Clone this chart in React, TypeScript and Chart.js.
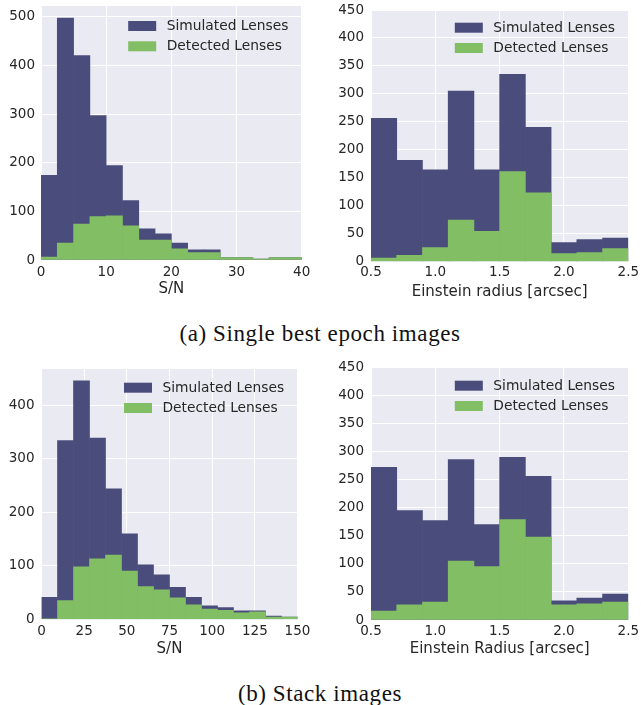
import React, { useEffect, useRef } from "react";
import { Chart, registerables } from "chart.js";

Chart.register(...registerables);
Chart.defaults.font.family = "DejaVu Sans";
Chart.defaults.font.size = 13.5;

// ---------- DATA ----------
const seriesLabels = ["Simulated Lenses", "Detected Lenses"];

// (a) single best epoch — S/N histogram (bin centres, width 2.5)
const snBinsA = [1.25, 3.75, 6.25, 8.75, 11.25, 13.75, 16.25, 18.75, 21.25, 23.75, 26.25, 28.75, 31.25, 33.75, 36.25, 38.75];
const snSimA = [174, 497, 420, 297, 194, 122, 64, 54, 35, 21, 21, 5, 5, 2, 5, 5];
const snDetA = [6, 35, 74, 89, 91, 70, 41, 41, 23, 15, 15, 5, 5, 2, 5, 5];

// (a) single best epoch — Einstein radius histogram (bin centres, width 0.2)
const erBins = [0.6, 0.8, 1.0, 1.2, 1.4, 1.6, 1.8, 2.0, 2.2, 2.4];
const erSimA = [256, 181, 164, 305, 164, 335, 240, 34, 39, 42];
const erDetA = [6, 11, 25, 74, 54, 161, 123, 14, 16, 23];

// (b) stack — S/N histogram (bin centres, width 9.375)
const snBinsB = [4.6875, 14.0625, 23.4375, 32.8125, 42.1875, 51.5625, 60.9375, 70.3125, 79.6875, 89.0625, 98.4375, 107.8125, 117.1875, 126.5625, 135.9375, 145.3125];
const snSimB = [41, 334, 446, 339, 244, 160, 102, 83, 60, 41, 25, 22, 16, 16, 6, 4];
const snDetB = [1, 35, 98, 113, 120, 90, 61, 55, 40, 27, 19, 17, 12, 14, 4, 4];

// (b) stack — Einstein radius histogram
const erSimB = [272, 195, 177, 286, 170, 290, 256, 34, 39, 46];
const erDetB = [16, 27, 32, 105, 95, 179, 148, 27, 29, 32];

const captions = ["(a) Single best epoch images", "(b) Stack images"];

// ---------- STYLE ----------
const BLUE = "#4a4c7b";
const GREEN = "#82be64";
const BG = "#eaeaf2";
const TEXT = "#262626";
const FONT = "DejaVu Sans";

const bgPlugin = {
  id: "bgArea",
  beforeDraw(chart: any) {
    const { ctx, chartArea } = chart;
    if (!chartArea) return;
    ctx.save();
    ctx.fillStyle = BG;
    ctx.fillRect(chartArea.left, chartArea.top, chartArea.right - chartArea.left, chartArea.bottom - chartArea.top);
    ctx.restore();
  },
};

const legendPlugin = {
  id: "innerLegend",
  afterDatasetsDraw(chart: any, _args: any, opts: any) {
    const { ctx, chartArea } = chart;
    const ds = chart.data.datasets;
    const dy = opts && typeof opts.dy === "number" ? opts.dy : 14;
    ctx.save();
    ctx.font = `13.8px "${FONT}"`;
    ctx.textBaseline = "middle";
    ctx.textAlign = "left";
    ds.forEach((d: any, i: number) => {
      const rx = chartArea.right - 173.5;
      const ry = chartArea.top + dy + i * 20.3;
      ctx.fillStyle = d.backgroundColor;
      ctx.fillRect(rx, ry, 28, 10);
      ctx.fillStyle = TEXT;
      ctx.fillText(d.label, chartArea.right - 135, ry + 5.5);
    });
    ctx.restore();
  },
};

type PanelProps = {
  left: number;
  top: number;
  width: number;
  height: number;
  padTop: number;
  padRight: number;
  yAxisW: number;
  xAxisH: number;
  titlePad: number;
  xTickPad: number;
  yTickPad: number;
  legendDy: number;
  bins: number[];
  sim: number[];
  det: number[];
  xMin: number;
  xMax: number;
  xStep: number;
  yMax: number;
  yStep: number;
  xTitle: string;
  decimals: number;
};

function zeroPad(s: any) {
  s.paddingTop = 0;
  s.paddingBottom = 0;
  s.paddingLeft = 0;
  s.paddingRight = 0;
}

function Panel(p: PanelProps) {
  const ref = useRef<HTMLCanvasElement | null>(null);
  useEffect(() => {
    if (!ref.current) return;
    const tickFont = { family: FONT, size: 13.5 };
    const titleFont = { family: FONT, size: 15 };
    const common = {
      grouped: false,
      barPercentage: 1,
      categoryPercentage: 1,
      borderWidth: 0,
    };
    const chart = new Chart(ref.current, {
      type: "bar",
      data: {
        datasets: [
          {
            ...common,
            label: seriesLabels[0],
            data: p.bins.map((x, i) => ({ x, y: p.sim[i] })),
            backgroundColor: BLUE,
            order: 2,
          },
          {
            ...common,
            label: seriesLabels[1],
            data: p.bins.map((x, i) => ({ x, y: p.det[i] })),
            backgroundColor: GREEN,
            order: 1,
          },
        ] as any,
      },
      options: {
        animation: false,
        responsive: false,
        maintainAspectRatio: false,
        devicePixelRatio: 1,
        layout: { padding: { top: p.padTop, right: p.padRight, left: 0, bottom: 0 } },
        plugins: {
          legend: { display: false },
          tooltip: { enabled: false },
          innerLegend: { dy: p.legendDy },
        },
        scales: {
          x: {
            type: "linear",
            min: p.xMin,
            max: p.xMax,
            offset: false,
            grid: { color: "#ffffff", lineWidth: 1, offset: false, drawTicks: false },
            border: { display: false },
            ticks: {
              stepSize: p.xStep,
              includeBounds: false,
              autoSkip: false,
              maxRotation: 0,
              padding: p.xTickPad,
              font: tickFont,
              color: TEXT,
              callback: (v: any) => Number(v).toFixed(p.decimals),
            },
            title: {
              display: true,
              text: p.xTitle,
              font: titleFont,
              color: TEXT,
              padding: { top: 0, bottom: p.titlePad },
            },
            afterFit: (s: any) => {
              s.height = p.xAxisH;
              zeroPad(s);
            },
          } as any,
          y: {
            type: "linear",
            min: 0,
            max: p.yMax,
            grid: { color: "#ffffff", lineWidth: 1, drawTicks: false },
            border: { display: false },
            ticks: {
              stepSize: p.yStep,
              includeBounds: false,
              autoSkip: false,
              padding: p.yTickPad,
              font: tickFont,
              color: TEXT,
            },
            afterFit: (s: any) => {
              s.width = p.yAxisW;
              zeroPad(s);
            },
          } as any,
        },
      } as any,
      plugins: [bgPlugin, legendPlugin],
    });
    return () => chart.destroy();
  }, []);
  return (
    <canvas
      ref={ref}
      width={p.width}
      height={p.height}
      style={{ position: "absolute", left: p.left, top: p.top, width: p.width, height: p.height }}
    />
  );
}

export default function App() {
  const captionStyle: React.CSSProperties = {
    position: "absolute",
    left: 0,
    width: 640,
    textAlign: "center",
    fontFamily: "'Liberation Serif', 'Times New Roman', serif",
    fontSize: 23,
    color: "#111",
    whiteSpace: "nowrap",
    lineHeight: "24px",
    letterSpacing: "0.6px",
  };
  return (
    <div style={{ position: "absolute", left: 0, top: 0, width: 641, height: 705, background: "#fff", overflow: "hidden" }}>
      <Panel
        left={0} top={0} width={320} height={305}
        padTop={6} padRight={18.3} yAxisW={41} xAxisH={45} titlePad={6.7}
        xTickPad={4.7} yTickPad={6} legendDy={15}
        bins={snBinsA} sim={snSimA} det={snDetA}
        xMin={0} xMax={40} xStep={10} yMax={522} yStep={100}
        xTitle="S/N" decimals={0}
      />
      <Panel
        left={320} top={0} width={321} height={305}
        padTop={10} padRight={12.7} yAxisW={51} xAxisH={43.5} titlePad={4.3}
        xTickPad={3.2} yTickPad={7} legendDy={12.7}
        bins={erBins} sim={erSimA} det={erDetA}
        xMin={0.5} xMax={2.5} xStep={0.5} yMax={450} yStep={50}
        xTitle="Einstein radius [arcsec]" decimals={1}
      />
      <Panel
        left={0} top={360} width={320} height={305}
        padTop={9} padRight={22.5} yAxisW={41.5} xAxisH={45.7} titlePad={7.2}
        xTickPad={3.6} yTickPad={7} legendDy={13.7}
        bins={snBinsB} sim={snSimB} det={snDetB}
        xMin={0} xMax={150} xStep={25} yMax={468} yStep={100}
        xTitle="S/N" decimals={0}
      />
      <Panel
        left={320} top={360} width={321} height={305}
        padTop={7.5} padRight={12.7} yAxisW={51} xAxisH={45} titlePad={7.2}
        xTickPad={3.6} yTickPad={7} legendDy={13.2}
        bins={erBins} sim={erSimB} det={erDetB}
        xMin={0.5} xMax={2.5} xStep={0.5} yMax={450} yStep={50}
        xTitle="Einstein Radius [arcsec]" decimals={1}
      />
      <div style={{ ...captionStyle, top: 322 }}>{captions[0]}</div>
      <div style={{ ...captionStyle, top: 682 }}>{captions[1]}</div>
    </div>
  );
}
